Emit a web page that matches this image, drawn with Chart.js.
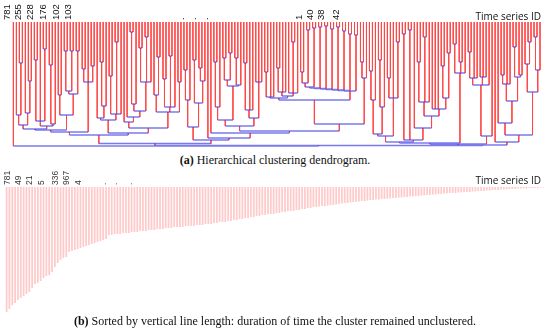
<!DOCTYPE html>
<html><head><meta charset="utf-8">
<script src="https://cdn.jsdelivr.net/npm/chart.js@4/dist/chart.umd.min.js"></script>
<style>
html,body{margin:0;padding:0;background:#fff;}
body{width:550px;height:336px;position:relative;overflow:hidden;}
#wrapA{position:absolute;left:0;top:0;width:550px;height:150px;}
#wrapB{position:absolute;left:0;top:166px;width:550px;height:150px;}
.cap{position:absolute;left:0;width:550px;text-align:center;font-family:"Liberation Serif",serif;font-size:12px;color:#111;white-space:nowrap;line-height:14px;}
.tsid{position:absolute;right:9px;font-family:"Open Sans",sans-serif;font-size:10px;color:#111;line-height:12px;}
</style></head><body>
<div id="wrapA"><canvas id="cA"></canvas></div>
<div class="tsid" style="top:10px">Time series ID</div>
<div class="cap" style="top:153px"><b>(a)</b> Hierarchical clustering dendrogram.</div>
<div id="wrapB"><canvas id="cB"></canvas></div>
<div class="tsid" style="top:174px">Time series ID</div>
<div class="cap" style="top:314px"><b>(b)</b> Sorted by vertical line length: duration of time the cluster remained unclustered.</div>
<script>
// ---------- (a) dendrogram data: clusters written as "(child child ...)mergeHeight", leaf = "."
const clusterA1 = "(. (. .)41)93";
const clusterA2 = "(. (. .)59)91";
const clusterA3 = "((. .)38 . (. .)27)99";
const clusterA4 = "((. .)43 .)102";
const clusterB  = "((. .)73 (((. .)29 (. .)29)69 (. .)29)72)93";
const clusterC  = "((. .)47 . (. .)44)60";
const clusterD  = "((. ((. .)40 .)84)96 ((. .)54 (. .)20 .)92)98";
const clusterE  = "(. (. (((. .)10 .)82 ((. .)26 (. .)15 .)60)89)95)100";
const clusterF  = "((. (. .)35)73 ((. .)57 (. .)34 .)85 (. .)60)90";
const clusterN1 = "(((. .)48 .)78 ((. .)38 ((. .)46 .)59)81)105";
const clusterN2 = "((((. .)40 .)85 (((. .)36 (. .)31)58 ((. .)36 .)63)64)98 (((. .)41 . .)88 (. . .)60)96)104";
const clusterP  = "(((. .)50 . .)75 (((. .)46 . .)70 (. (. .)20 .)71)74)76";
// cascade cluster (IDs 1, 40, 38, 42): pairs joined one after another
const cascadePairHeights  = [50, 8, 6, 5, 4, 7, 5, 9, 12, 13];
const cascadeMergeHeights = [61, 65, 66, 66.5, 67, 67.5, 68, 68.5, 69];
const clusterR  = "((. .)40 .)56";
const clusterS  = "((((. .)49 .)78 ((. .)38 .)85)112 ((. .)56 . (. .)20)76)114";
const clusterT  = "((. .)12 (. .)8 (. (((. .)40 (. .)15 .)80 (. . . ((. .)44 (. .)31)76)87)94)106)118";
const clusterU  = "((. .)22 (. .)40 .)51";
const clusterV  = "((((. .)30 (. .)56)56 (. (. .)55)55 .)63 .)114";
const clusterW1 = "(. (((. .)53 . .)62 ((. .)25 (. .)53)55)79)101";
const clusterW2 = "((. (. .)20)42 ((. .)15 .)48)70";

let clusterQ = `(. .)${cascadePairHeights[0]}`;
for (let i = 1; i < cascadePairHeights.length; i++) {
  clusterQ = `(${clusterQ} (. .)${cascadePairHeights[i]})${cascadeMergeHeights[i-1]}`;
}
const partL1 = `((${clusterA1} ${clusterA2})103 (${clusterA3} ${clusterA4})104)107`;
const partL  = `((${partL1} ${clusterB})108 ${clusterC})110`;
const partM  = `(${clusterD} (${clusterE} ${clusterF})106)111`;
const partPQR = `((${clusterP} ${clusterQ})78 ${clusterR})102`;
const partMid = `(${clusterN1} (. (. (${clusterN2} ${partPQR})109)111)116)118`;
const partLeft = `((${partL} ${partM})113 ${partMid})121.5`;
const partW = `(. (${clusterW1} ${clusterW2})113)120`;
const partRight = `((((${clusterS} ${clusterT})120 ${clusterU})121 ${clusterV})122 ${partW})123`;
const dendrogramTree = `(. (${partLeft} ${partRight})123.5)124`;

const leafTickIndex = [0, 3.5, 7.7, 12, 16.3, 20.3, 58, 62, 66, 97.5, 101.3, 105, 109.7];
const leafTickText  = ["781","255","228","176","102","103",".",".",".","1","40","38","42"];

// ---------- (b) sorted vertical line lengths
const sortedLengths = [
125,122,118,116,113,111,109,107,105,101,
97,96,94,91,89,88,85,80,76,73,
71,70,65,64,63,62,61,60,59,58,
57,56,55,54,53,52,48,48,47,47,
47,46,46,46,45,45,45,44,44,44,
43,43,43,42,42,42,41,41,41,40,
40,40,40,39,39,39,39,38,38,38,
37,37,37,36,36,35,35,35,34,34,
33,33,32,32,31,31,30,30,29,29,
28,28,27,27,27,26,26,25,25,24,
24,24,23,23,22,22,21,21,20,20,
19.5,19,19,18.5,18,18,17.5,17,16.5,16,
16,15.5,15,15,14.5,14,14,13.5,13,13,
12.5,12.5,12,12,11.5,11.5,11,11,10.5,10.5,
10,10,9.5,9.5,9,9,8.5,8.5,8,8,
7.5,7.5,7,7,6.5,6.5,6,6,6,5.5,
5.5,5,5,5,4.5,4.5,4,4,4,3.5,
3.5,3,3,3,2.5,2.5,2.5,2,2,2,
1.5,1.5,1.5,1.5,1,1,1,1,0.5,0.5];
const barTickIndex = [2, 6, 10, 14, 19, 23, 27, 36, 40, 45];
const barTickText  = ["781","49","21","5","336","967","4",".",".","."];

// ---------- parse tree
function parseTree(str){
  let pos = 0;
  const skip = () => { while (pos < str.length && str[pos] === ' ') pos++; };
  function node(){
    skip();
    if (str[pos] === '.') { pos++; return {kids: null, h: 0}; }
    if (str[pos] === '(') {
      pos++; const kids = []; skip();
      while (pos < str.length && str[pos] !== ')') { kids.push(node()); skip(); }
      pos++;
      const m = /^\d+(\.\d+)?/.exec(str.slice(pos));
      pos += m ? m[0].length : 0;
      return {kids, h: m ? parseFloat(m[0]) : 0};
    }
    throw new Error('parse error at ' + pos);
  }
  return node();
}
const root = parseTree(dendrogramTree);
let leafCount = 0;
function place(n){
  if (!n.kids) { n.x = leafCount++; return; }
  n.kids.forEach(place);
  n.x = (n.kids[0].x + n.kids[n.kids.length-1].x) / 2;
}
place(root);
const vPts = [], hPts = [];
(function walk(n){
  if (!n.kids) return;
  const a = n.kids[0].x, b = n.kids[n.kids.length-1].x;
  hPts.push({x:a, y:n.h}, {x:b, y:n.h}, {x:b, y:null});
  n.kids.forEach(k => {
    vPts.push({x:k.x, y:k.h}, {x:k.x, y:n.h}, {x:k.x, y:null});
    walk(k);
  });
})(root);

new Chart(document.getElementById('cA'), {
  type: 'scatter',
  data: { datasets: [
    { type:'line', data: hPts, borderColor:'rgba(70,70,228,0.72)', borderWidth:1.4, pointRadius:0, spanGaps:false, tension:0, order:1, clip:false },
    { type:'line', data: vPts, borderColor:'rgba(255,70,70,0.9)', borderWidth:1, pointRadius:0, spanGaps:false, tension:0, order:2, clip:false }
  ]},
  options: {
    responsive:true, maintainAspectRatio:false, animation:false,
    layout:{ padding:{ left:12, right:10, top:0, bottom:2 } },
    plugins:{ legend:{display:false}, tooltip:{enabled:false} },
    scales:{
      x:{ type:'linear', position:'top', min:0, max:leafCount-1,
          grid:{display:false, drawTicks:false}, border:{display:false},
          afterBuildTicks: s => { s.ticks = leafTickIndex.map(v => ({value:v})); },
          afterFit: s => { s.height = 22; },
          ticks:{ autoSkip:false, maxRotation:90, minRotation:90, padding:2, labelOffset:5.7,
                  font:{family:'"Liberation Sans", Arial, sans-serif', size:9.5}, color:'#111',
                  callback:(v,i) => leafTickText[i] } },
      y:{ display:false, reverse:true, min:0, max:126 }
    }
  }
});

new Chart(document.getElementById('cB'), {
  type: 'bar',
  data: { labels: sortedLengths.map((_, i) => String(i)),
          datasets: [{ data: sortedLengths, backgroundColor:'rgba(255,150,150,0.5)', borderWidth:0,
                       barPercentage:0.62, categoryPercentage:1.0 }] },
  options: {
    responsive:true, maintainAspectRatio:false, animation:false,
    layout:{ padding:{ left:5, right:5, top:0, bottom:3 } },
    plugins:{ legend:{display:false}, tooltip:{enabled:false} },
    scales:{
      x:{ position:'top', grid:{display:false, drawTicks:false}, border:{display:false},
          afterBuildTicks: s => { s.ticks = barTickIndex.map(v => ({value:v})); },
          afterFit: s => { s.height = 21; },
          ticks:{ autoSkip:false, maxRotation:90, minRotation:90, padding:2, labelOffset:5.1,
                  font:{family:'"Liberation Sans", Arial, sans-serif', size:8.5}, color:'#333',
                  callback:(v,i) => barTickText[i] } },
      y:{ display:false, reverse:true, min:0, max:126 }
    }
  }
});
</script>
</body></html>
